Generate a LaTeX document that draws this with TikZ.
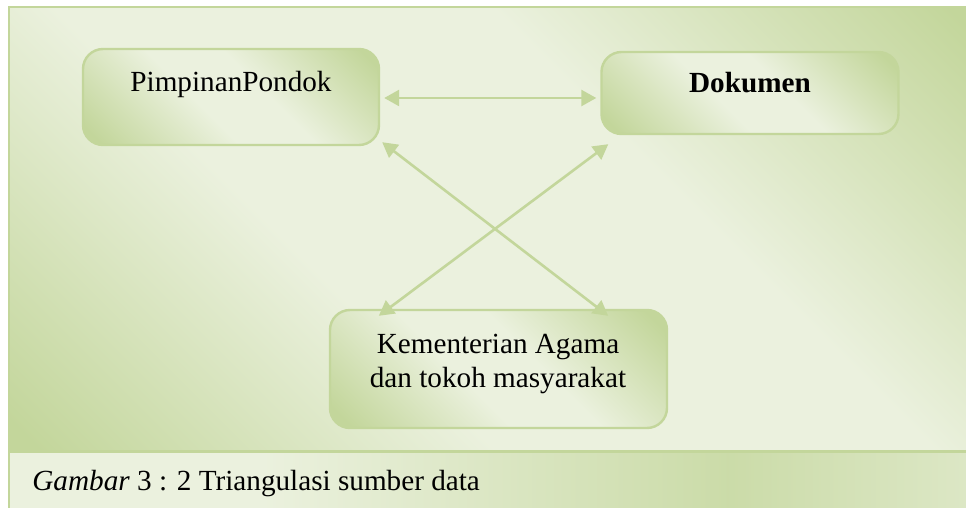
\documentclass[tikz,border=0pt]{standalone}
\usepackage{fontspec}
\setmainfont{Liberation Serif}
\usetikzlibrary{arrows.meta,calc}

\definecolor{oliveD}{HTML}{C3D69B}
\definecolor{oliveL}{HTML}{EBF1DE}
\definecolor{oliveLine}{HTML}{C3D69B}

% diagonal band: dark at two opposite corners, pale across the middle
\pgfdeclarehorizontalshading{oliveband}{100bp}{color(0bp)=(oliveD); color(16bp)=(oliveD); color(39bp)=(oliveL); color(61bp)=(oliveL); color(84bp)=(oliveD); color(100bp)=(oliveD)}
% same idea for the boxes
\pgfdeclarehorizontalshading{boxband}{100bp}{color(0bp)=(oliveD); color(18bp)=(oliveD); color(43bp)=(oliveL); color(57bp)=(oliveL); color(82bp)=(oliveD); color(100bp)=(oliveD)}
% caption strip: pale on the left, darker towards the right
\pgfdeclarehorizontalshading{captionband}{100bp}{color(0bp)=(oliveL); color(38bp)=(oliveL); color(62bp)=(oliveD!80!oliveL); color(75bp)=(oliveL!65!oliveD); color(100bp)=(oliveL)}

\tikzset{
  panel/.style={rectangle, rounded corners=10pt, draw=oliveLine, line width=1.2pt,
                shading=boxband, shading angle=45, inner sep=0pt},
  boxtext/.style={font=\fontsize{14.6}{17}\selectfont, align=center, inner sep=0pt},
  link/.style={draw=oliveLine, line width=1.3pt,
               {Triangle[length=7.5pt,width=8pt]}-{Triangle[length=7.5pt,width=8pt]}},
}

\begin{document}
\begin{tikzpicture}[x=0.5pt,y=-0.5pt]
  \useasboundingbox (0,0) rectangle (966,508);
  \clip (0,0) rectangle (966,508);

  % frame and background
  \path[shading=oliveband, shading angle=45] (9,7) rectangle (980,451);
  \draw[oliveLine, line width=1pt] (9,510) -- (9,7) -- (980,7);
  \path[shading=captionband] (10,452) rectangle (980,510);
  \draw[oliveD, line width=1.3pt] (10,451.5) -- (980,451.5);

  % boxes
  \node[panel, minimum width=148pt, minimum height=48pt] (pp) at (231,97) {};
  \node[panel, minimum width=148.5pt, minimum height=41pt] (dk) at (750,93) {};
  \node[panel, minimum width=168.5pt, minimum height=59pt] (km) at (498.5,369) {};

  \node[boxtext, anchor=base] (pptext) at (231,92) {PimpinanPondok};
  \node[boxtext, anchor=base] (dktext) at (750,93) {\textbf{Dokumen}};
  \node[boxtext] (kmtext) at (498,363.5) {Kementerian Agama\\dan tokoh masyarakat};

  % arrow ends
  \coordinate (ppcorner) at ($(pp.south east)+(2,-4)$);
  \coordinate (dkcorner) at ($(dk.south west)+(8,9)$);
  \coordinate (kmleft)  at ($(km.north west)+(50,7)$);
  \coordinate (kmright) at ($(km.north east)+(-60,7)$);

  % connectors
  \draw[link] ($(pp.east)+(4,1)$) -- ($(pp.east -| dk.west)+(-4,1)$);
  \draw[link] (ppcorner) -- (kmright);
  \draw[link] (dkcorner) -- (kmleft);

  % caption
  \node[boxtext, anchor=base west] (caption) at (32,490) {\textit{Gambar} 3 : 2 Triangulasi sumber data};
\end{tikzpicture}
\end{document}
